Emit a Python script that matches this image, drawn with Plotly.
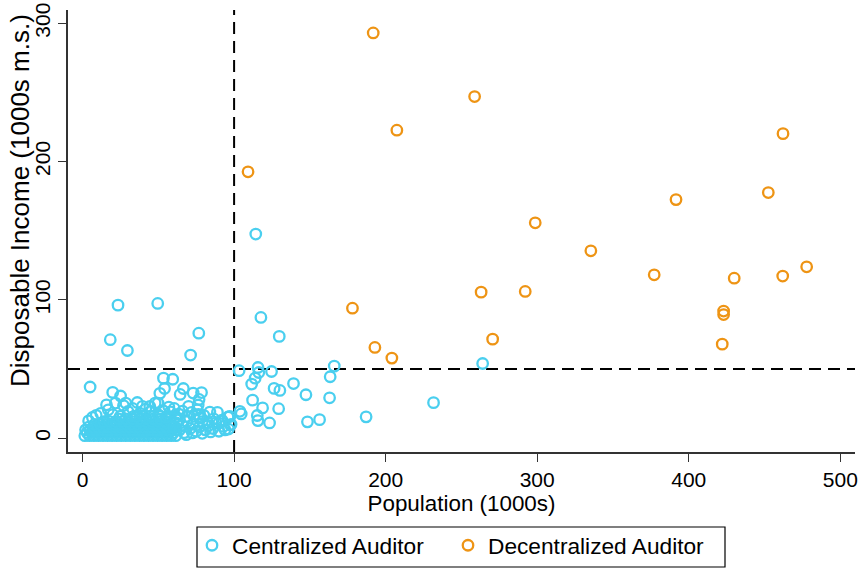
import plotly.graph_objects as go

# ---------------- data ----------------
POP_THRESHOLD = 100
INCOME_THRESHOLD = 50

X_TICKS = [0, 100, 200, 300, 400, 500]
Y_TICKS = [0, 100, 200, 300]

X_TITLE = "Population (1000s)"
Y_TITLE = "Disposable Income (1000s m.s.)"

decentralized = [
    (191.8, 293.0), (258.7, 247.0), (207.4, 222.7), (109.2, 192.6), (298.7, 155.7),
    (462.2, 220.2), (391.6, 172.5), (452.5, 177.6), (335.4, 135.5), (377.2, 118.1),
    (430.0, 115.7), (462.0, 117.2), (477.8, 123.9), (423.0, 91.9), (423.0, 89.4),
    (422.1, 68.0), (263.0, 105.6), (292.1, 106.1), (270.6, 71.6), (178.1, 94.0),
    (192.9, 65.6), (204.1, 57.9),
]

centralized_outer = [
    (114.3, 147.6), (117.7, 87.3), (129.8, 73.6), (103.3, 48.8), (115.8, 51.1),
    (116.3, 47.5), (124.7, 48.2), (166.1, 52.1), (163.4, 44.4), (113.9, 43.4),
    (111.6, 39.1), (139.2, 39.5), (126.4, 36.0), (130.2, 34.5), (147.4, 31.4),
    (163.0, 29.2), (112.2, 27.5), (264.0, 54.0), (231.6, 25.7), (118.8, 21.9),
    (129.4, 21.3), (103.8, 19.4), (104.7, 17.5), (97.2, 15.7), (115.3, 16.4),
    (115.7, 12.7), (123.4, 11.0), (148.4, 11.8), (156.4, 13.4), (187.1, 15.4),
    (97.5, 9.5),
    (23.4, 96.2), (49.6, 97.4), (18.3, 71.2), (29.6, 63.4), (76.7, 75.9),
    (71.3, 60.1), (5.0, 37.0), (53.4, 43.4), (59.5, 42.6),
]

centralized_mid = [
    (19.9, 33.1), (25.1, 30.5), (54.1, 35.9), (51.0, 32.4), (66.5, 35.9),
    (64.4, 31.6), (73.0, 32.6), (78.5, 33.0), (76.9, 28.0), (76.3, 24.0),
    (75.8, 20.5), (76.4, 17.2), (15.8, 24.1), (21.7, 25.4), (27.0, 23.6),
    (36.1, 25.8), (44.4, 22.9), (49.8, 25.4), (56.9, 22.5), (41.7, 21.0),
    (30.0, 19.3), (9.0, 16.5), (35.6, 15.7), (45.0, 19.3), (84.0, 18.9),
    (89.0, 18.7), (96.0, 15.3), (82.4, 11.2), (89.9, 10.9), (63.5, 17.4),
    (68.6, 15.7), (71.9, 18.6), (73.6, 15.7), (77.4, 14.5), (61.5, 15.7),
    (28.5, 25.4), (47.9, 25.4), (12.0, 18.0), (20.0, 17.0), (25.0, 16.0),
    (38.0, 18.0), (50.0, 17.0), (55.0, 15.0), (58.0, 19.0), (33.0, 21.5),
    (39.5, 23.0), (53.0, 20.0), (60.5, 21.5), (66.0, 19.5), (70.0, 23.0),
    (17.0, 20.5), (4.0, 12.5), (6.5, 15.0), (64.0, 13.5), (86.5, 14.0),
    (92.0, 13.0), (80.0, 16.5),
    (60.0, 8.0), (62.0, 11.0), (64.0, 6.0), (66.0, 9.0), (67.0, 4.0),
    (69.0, 12.0), (71.0, 7.0), (72.5, 3.8), (73.0, 10.0), (75.0, 5.0),
    (77.0, 8.0), (79.0, 12.0), (81.0, 6.0), (83.0, 9.0), (86.0, 7.0),
    (88.0, 11.0), (90.0, 5.0), (92.8, 8.5), (94.0, 6.0), (96.3, 6.6),
    (98.0, 10.0), (68.5, 2.5), (79.0, 3.5), (84.5, 4.5),
]

centralized_core = [
    (1.5, 1.8), (4.5, 1.8), (7.5, 1.8), (10.5, 1.8), (13.5, 1.8), (16.5, 1.8),
    (19.5, 1.8), (22.5, 1.8), (25.5, 1.8), (28.5, 1.8), (31.5, 1.8), (34.5, 1.8),
    (37.5, 1.8), (40.5, 1.8), (43.5, 1.8), (46.5, 1.8), (49.5, 1.8), (52.5, 1.8),
    (55.5, 1.8), (58.5, 1.8), (61.5, 1.8),
    (3, 4), (6, 4), (9, 4), (12, 4), (15, 4), (18, 4), (21, 4), (24, 4), (27, 4),
    (30, 4), (33, 4), (36, 4), (39, 4), (42, 4), (45, 4), (48, 4), (51, 4),
    (54, 4), (57, 4), (60, 4),
    (2, 6), (5, 6), (8, 6), (11, 6), (14, 6), (17, 6), (20, 6), (23, 6), (26, 6),
    (29, 6), (32, 6), (35, 6), (38, 6), (41, 6), (44, 6), (47, 6), (50, 6),
    (53, 6), (56, 6), (59, 6), (62, 6),
    (4, 8), (7, 8), (10, 8), (13, 8), (16, 8), (19, 8), (22, 8), (25, 8), (28, 8),
    (31, 8), (34, 8), (37, 8), (40, 8), (43, 8), (46, 8), (49, 8), (52, 8),
    (55, 8), (58, 8), (61, 8),
    (8, 10), (11.5, 10), (15, 10), (18.5, 10), (22, 10), (25.5, 10), (29, 10),
    (32.5, 10), (36, 10), (39.5, 10), (43, 10), (46.5, 10), (50, 10), (53.5, 10),
    (57, 10),
    (14, 12), (18, 12), (22, 12), (26, 12), (30, 12), (34, 12), (38, 12),
    (42, 12), (46, 12), (50, 12), (54, 12), (58, 12),
    (24, 14), (28.5, 14), (33, 14), (37.5, 14), (42, 14), (46.5, 14), (51, 14),
    (55.5, 14),
    (34, 16), (39.5, 16), (45, 16), (50.5, 16), (56, 16),
]

# ---------------- styling ----------------
CYAN = "#4ACFEF"
ORANGE = "#EE9414"
FONT = "Liberation Sans, Arial, Helvetica, sans-serif"

# plot-area geometry (pixels) used to place the legend frame and y title
L, R, T, B = 68, 4, 10, 117
W, H = 859, 569
PW, PH = W - L - R, H - T - B

cent = centralized_core + centralized_mid + centralized_outer

fig = go.Figure()
fig.add_trace(go.Scatter(
    x=[p[0] for p in cent], y=[p[1] for p in cent],
    mode="markers", name="Centralized Auditor",
    marker=dict(symbol="circle-open", size=10.5, color=CYAN, line=dict(width=2.3, color=CYAN)),
))
fig.add_trace(go.Scatter(
    x=[p[0] for p in decentralized], y=[p[1] for p in decentralized],
    mode="markers", name="Decentralized Auditor",
    marker=dict(symbol="circle-open", size=10.5, color=ORANGE, line=dict(width=2.3, color=ORANGE)),
))

fig.add_shape(type="line", xref="x", yref="paper", x0=POP_THRESHOLD, x1=POP_THRESHOLD,
              y0=0, y1=1, line=dict(color="black", width=2, dash="12px,7px"), layer="below")
fig.add_shape(type="line", xref="paper", yref="y", x0=0, x1=1,
              y0=INCOME_THRESHOLD, y1=INCOME_THRESHOLD,
              line=dict(color="black", width=2, dash="12px,7px"), layer="below")
# legend frame
fig.add_shape(type="rect", xref="paper", yref="paper",
              x0=(197 - L) / PW, x1=(725 - L) / PW,
              y0=(H - B - 527) / PH, y1=(H - B - 567) / PH,
              line=dict(color="black", width=1.2), fillcolor="rgba(0,0,0,0)")

# y-axis title
fig.add_annotation(
    text=Y_TITLE, textangle=-90, xref="paper", yref="paper",
    x=(20 - L) / PW, y=(H - B - 201) / PH, xanchor="center", yanchor="middle",
    showarrow=False, font=dict(size=26, family=FONT, color="black"),
)

fig.update_layout(
    width=W, height=H,
    margin=dict(l=L, r=R, t=T, b=B, autoexpand=False),
    paper_bgcolor="white", plot_bgcolor="white",
    font=dict(family=FONT, color="black", size=21),
    showlegend=True,
    legend=dict(
        orientation="h", xref="container", yref="container",
        x=192 / W, xanchor="left", y=1 - 524 / H, yanchor="top",
        borderwidth=0, font=dict(size=22.7),
        bgcolor="rgba(0,0,0,0)", entrywidth=211, entrywidthmode="pixels",
    ),
    xaxis=dict(
        range=[-9.6, 509.7], tickvals=X_TICKS, ticktext=[str(v) for v in X_TICKS],
        showgrid=False, zeroline=False, showline=True, linecolor="#333", linewidth=1.6,
        ticks="outside", ticklen=8, tickwidth=1.2, tickcolor="#333", automargin=False,
        title=dict(text=X_TITLE, font=dict(size=22.4), standoff=0),
    ),
    yaxis=dict(
        range=[-10, 309.6], tickvals=Y_TICKS, ticktext=[str(v) for v in Y_TICKS],
        showgrid=False, zeroline=False, showline=True, linecolor="#333", linewidth=1.6,
        ticks="outside", ticklen=8, tickwidth=1.2, tickcolor="#333", tickangle=-90,
        automargin=False,
    ),
)

fig.write_html("out.html")
